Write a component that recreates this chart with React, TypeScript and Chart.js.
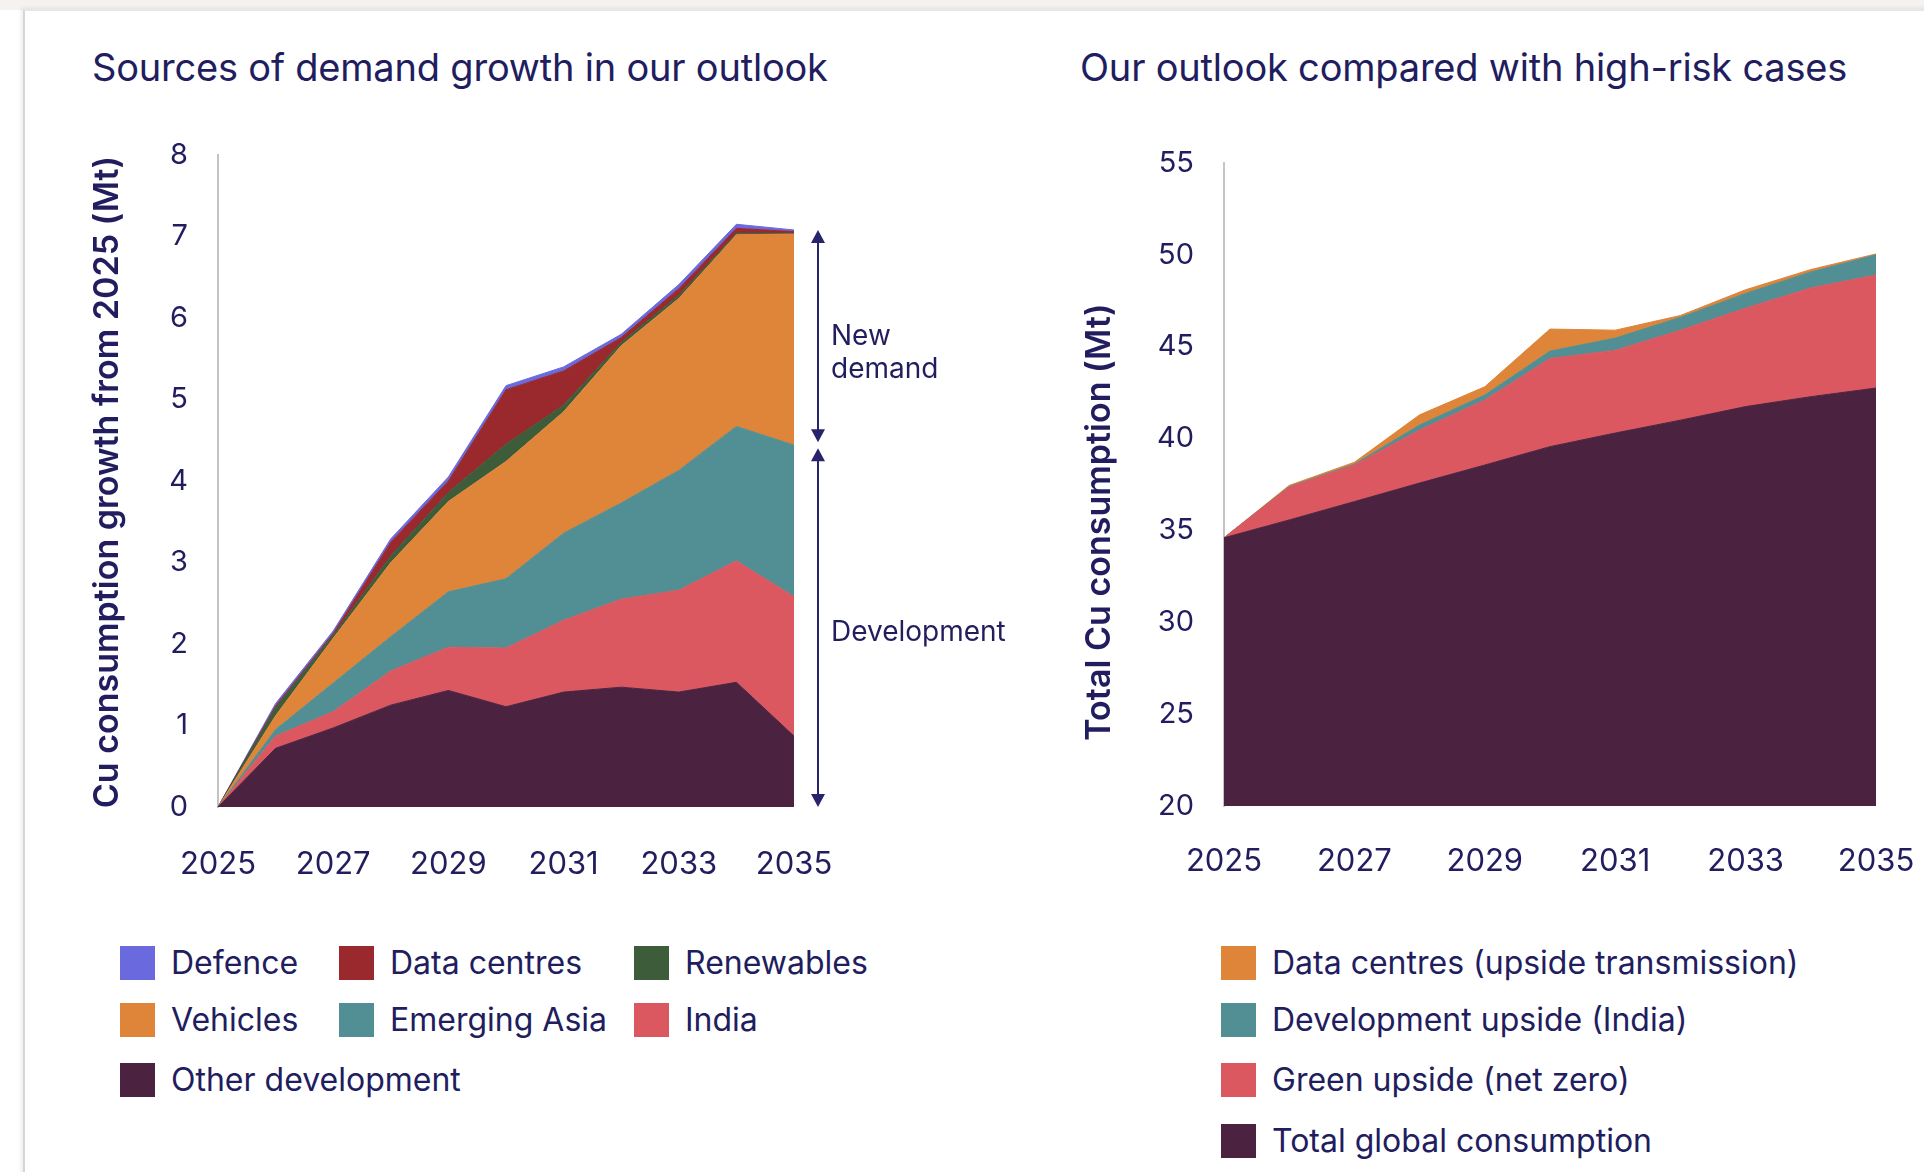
import React, { useEffect, useRef } from "react";
import { Chart, registerables } from "chart.js";

Chart.register(...registerables);

// ---------- DATA ----------
const years = ["2025", "2026", "2027", "2028", "2029", "2030", "2031", "2032", "2033", "2034", "2035"];
const xTickLabels = ["2025", "2027", "2029", "2031", "2033", "2035"];
const leftYTicks = [0, 1, 2, 3, 4, 5, 6, 7, 8];
const rightYTicks = [20, 25, 30, 35, 40, 45, 50, 55];

// Left chart: growth from 2025 (Mt), stacked bottom -> top
const otherDevelopment = [0, 0.72, 0.97, 1.25, 1.43, 1.23, 1.41, 1.47, 1.41, 1.53, 0.87];
const india = [0, 0.15, 0.2, 0.42, 0.53, 0.72, 0.88, 1.08, 1.25, 1.49, 1.71];
const emergingAsia = [0, 0.08, 0.35, 0.42, 0.68, 0.85, 1.07, 1.18, 1.47, 1.65, 1.86];
const vehicles = [0, 0.17, 0.55, 0.91, 1.11, 1.44, 1.49, 1.93, 2.11, 2.35, 2.59];
const renewables = [0, 0.1, 0.04, 0.08, 0.11, 0.21, 0.08, 0.04, 0.04, 0.02, 0.01];
const dataCentres = [0, 0.02, 0.02, 0.17, 0.14, 0.67, 0.42, 0.06, 0.08, 0.06, 0.02];
const defence = [0, 0.03, 0.03, 0.04, 0.05, 0.05, 0.05, 0.04, 0.05, 0.05, 0.02];

// Right chart: total Cu consumption (Mt), stacked bottom -> top
const totalGlobalConsumption = [34.6, 35.57, 36.57, 37.58, 38.56, 39.56, 40.3, 41.0, 41.74, 42.28, 42.75];
const greenUpside = [0, 1.79, 1.99, 2.89, 3.54, 4.8, 4.5, 4.9, 5.36, 5.92, 6.15];
const developmentUpside = [0, 0.03, 0.05, 0.27, 0.27, 0.4, 0.67, 0.7, 0.8, 0.87, 1.1];
const dataCentresUpside = [0, 0.06, 0.1, 0.55, 0.45, 1.2, 0.43, 0.1, 0.2, 0.13, 0.05];

const leftNames = ["Other development", "India", "Emerging Asia", "Vehicles", "Renewables", "Data centres", "Defence"];
const leftValues = [otherDevelopment, india, emergingAsia, vehicles, renewables, dataCentres, defence];
const leftColors = ["#4b2341", "#db5860", "#528f94", "#de853a", "#3d5d3a", "#9a292e", "#6a6ade"];

const rightNames = ["Total global consumption", "Green upside (net zero)", "Development upside (India)", "Data centres (upside transmission)"];
const rightValues = [totalGlobalConsumption, greenUpside, developmentUpside, dataCentresUpside];
const rightColors = ["#4b2341", "#db5860", "#528f94", "#de853a"];

const leftTitle = "Sources of demand growth in our outlook";
const rightTitle = "Our outlook compared with high-risk cases";
const leftYTitle = "Cu consumption growth from 2025 (Mt)";
const rightYTitle = "Total Cu consumption (Mt)";
const newDemandLabel = ["New", "demand"];
const developmentLabel = "Development";

// ---------- STYLE ----------
const FONT = "Inter, 'Noto Sans', sans-serif";
const NAVY = "#211d5e";
const AXIS_GRAY = "#c4c4c4";

function buildDatasets(names: string[], values: number[][], colors: string[], firstFill: string) {
  return names.map((n, i) => ({
    label: n,
    data: values[i],
    backgroundColor: colors[i],
    borderColor: colors[i],
    borderWidth: 1,
    fill: i === 0 ? firstFill : "-1",
    pointRadius: 0,
    pointHoverRadius: 0,
    tension: 0,
  }));
}

function drawYTitle(ctx: CanvasRenderingContext2D, text: string, x: number, y: number) {
  ctx.save();
  ctx.translate(x, y);
  ctx.rotate(-Math.PI / 2);
  ctx.font = `600 34px ${FONT}`;
  ctx.fillStyle = NAVY;
  ctx.textAlign = "center";
  ctx.textBaseline = "middle";
  ctx.fillText(text, 0, 0);
  ctx.restore();
}

function drawArrow(ctx: CanvasRenderingContext2D, x: number, y1: number, y2: number) {
  const hw = 7;
  const hh = 13;
  ctx.save();
  ctx.strokeStyle = "#28246b";
  ctx.fillStyle = "#28246b";
  ctx.lineWidth = 2;
  ctx.beginPath();
  ctx.moveTo(x, y1 + hh - 2);
  ctx.lineTo(x, y2 - hh + 2);
  ctx.stroke();
  ctx.beginPath();
  ctx.moveTo(x, y1);
  ctx.lineTo(x - hw, y1 + hh);
  ctx.lineTo(x + hw, y1 + hh);
  ctx.closePath();
  ctx.fill();
  ctx.beginPath();
  ctx.moveTo(x, y2);
  ctx.lineTo(x - hw, y2 - hh);
  ctx.lineTo(x + hw, y2 - hh);
  ctx.closePath();
  ctx.fill();
  ctx.restore();
}

function LeftChart() {
  const ref = useRef<HTMLCanvasElement | null>(null);
  useEffect(() => {
    if (!ref.current) return;
    const last = years.length - 1;
    const devTop = otherDevelopment[last] + india[last] + emergingAsia[last];
    const allTop = leftValues.reduce((s, arr) => s + arr[last], 0);
    const annot = {
      id: "leftAnnot",
      afterDraw(chart: any) {
        const ctx = chart.ctx as CanvasRenderingContext2D;
        const y = chart.scales.y;
        drawYTitle(ctx, leftYTitle, 108, 382);
        const ax = 818;
        const yTop = y.getPixelForValue(allTop);
        const yMid = y.getPixelForValue(devTop);
        const yBot = y.getPixelForValue(0);
        drawArrow(ctx, ax, yTop, yMid - 3);
        drawArrow(ctx, ax, yMid + 3, yBot);
        ctx.save();
        ctx.font = `400 28px ${FONT}`;
        ctx.fillStyle = NAVY;
        ctx.textAlign = "left";
        ctx.textBaseline = "middle";
        ctx.fillText(newDemandLabel[0], 831, 237);
        ctx.fillText(newDemandLabel[1], 831, 270);
        ctx.fillText(developmentLabel, 831, 533);
        ctx.restore();
      },
    };
    const chart = new Chart(ref.current, {
      type: "line",
      data: { labels: years, datasets: buildDatasets(leftNames, leftValues, leftColors, "origin") as any },
      options: {
        animation: false,
        responsive: true,
        maintainAspectRatio: false,
        layout: { padding: { top: 55, right: 236, left: 0, bottom: 0 } },
        plugins: { legend: { display: false }, tooltip: { enabled: false } },
        scales: {
          x: {
            grid: { display: false, drawTicks: false },
            border: { display: false },
            ticks: {
              autoSkip: false,
              maxRotation: 0,
              padding: 39,
              color: NAVY,
              font: { size: 31, family: FONT },
              callback: (_v: any, i: number) => (xTickLabels.includes(years[i]) ? years[i] : ""),
            },
            afterFit: (s: any) => {
              s.height = 113;
            },
          },
          y: {
            stacked: true,
            min: leftYTicks[0],
            max: leftYTicks[leftYTicks.length - 1],
            afterBuildTicks: (s: any) => {
              s.ticks = leftYTicks.map((v) => ({ value: v }));
            },
            ticks: { padding: 30, color: NAVY, font: { size: 29, family: FONT } },
            grid: { display: false, drawTicks: false },
            border: { display: true, color: AXIS_GRAY, width: 2 },
            afterFit: (s: any) => {
              s.width = 218;
            },
          },
        },
      } as any,
      plugins: [annot as any],
    });
    return () => chart.destroy();
  }, []);
  return (
    <div style={{ position: "absolute", left: 0, top: 100, width: 1030, height: 820, zIndex: 2, pointerEvents: "none" }}>
      <canvas ref={ref} />
    </div>
  );
}

function RightChart() {
  const ref = useRef<HTMLCanvasElement | null>(null);
  useEffect(() => {
    if (!ref.current) return;
    const annot = {
      id: "rightAnnot",
      afterDraw(chart: any) {
        drawYTitle(chart.ctx, rightYTitle, 140, 422);
      },
    };
    const chart = new Chart(ref.current, {
      type: "line",
      data: { labels: years, datasets: buildDatasets(rightNames, rightValues, rightColors, "start") as any },
      options: {
        animation: false,
        responsive: true,
        maintainAspectRatio: false,
        layout: { padding: { top: 63, right: 76, left: 0, bottom: 0 } },
        plugins: { legend: { display: false }, tooltip: { enabled: false } },
        scales: {
          x: {
            grid: { display: false, drawTicks: false },
            border: { display: false },
            ticks: {
              autoSkip: false,
              maxRotation: 0,
              padding: 37,
              color: NAVY,
              font: { size: 31, family: FONT },
              callback: (_v: any, i: number) => (xTickLabels.includes(years[i]) ? years[i] : ""),
            },
            afterFit: (s: any) => {
              s.height = 114;
            },
          },
          y: {
            stacked: true,
            min: rightYTicks[0],
            max: rightYTicks[rightYTicks.length - 1],
            afterBuildTicks: (s: any) => {
              s.ticks = rightYTicks.map((v) => ({ value: v }));
            },
            ticks: { padding: 30, color: NAVY, font: { size: 29, family: FONT } },
            grid: { display: false, drawTicks: false },
            border: { display: true, color: AXIS_GRAY, width: 2 },
            afterFit: (s: any) => {
              s.width = 264;
            },
          },
        },
      } as any,
      plugins: [annot as any],
    });
    return () => chart.destroy();
  }, []);
  return (
    <div style={{ position: "absolute", left: 960, top: 100, width: 992, height: 820, zIndex: 1 }}>
      <canvas ref={ref} />
    </div>
  );
}

function LegendItem({ x, y, color, label }: { x: number; y: number; color: string; label: string }) {
  return (
    <div style={{ position: "absolute", left: x, top: y - 17, height: 34, display: "flex", alignItems: "center", whiteSpace: "nowrap" }}>
      <div style={{ width: 35, height: 34, background: color, marginRight: 16 }} />
      <span style={{ fontFamily: FONT, fontSize: 32, color: NAVY, lineHeight: "34px" }}>{label}</span>
    </div>
  );
}

export default function App() {
  const leftLegendNames = [...leftNames].reverse();
  const leftLegendColors = [...leftColors].reverse();
  const leftCols = [120, 339, 634];
  const leftRows = [963, 1020, 1080];
  const rightLegendNames = [...rightNames].reverse();
  const rightLegendColors = [...rightColors].reverse();
  const rightRows = [963, 1020, 1080, 1141];
  const titleStyle: React.CSSProperties = {
    position: "absolute",
    top: 44,
    fontFamily: FONT,
    fontSize: 38,
    color: NAVY,
    whiteSpace: "nowrap",
    lineHeight: "46px",
    letterSpacing: -0.2,
  };
  return (
    <div style={{ position: "absolute", left: 0, top: 0, width: 1924, height: 1172, background: "#ffffff", overflow: "hidden" }}>
      <div style={{ position: "absolute", left: 0, top: 0, width: 1924, height: 10, background: "#f5f2ef" }} />
      <div
        style={{
          position: "absolute",
          left: 23,
          top: 9,
          width: 1910,
          height: 1180,
          background: "#ffffff",
          borderLeft: "2px solid #d6d6d6",
          borderTop: "2px solid #e6e6e6",
          boxShadow: "-2px -1px 4px rgba(0,0,0,0.08)",
        }}
      />
      <div style={{ ...titleStyle, left: 92 }}>{leftTitle}</div>
      <div style={{ ...titleStyle, left: 1080 }}>{rightTitle}</div>
      <RightChart />
      <LeftChart />
      {leftLegendNames.map((n, i) => (
        <LegendItem key={n} x={leftCols[i % 3]} y={leftRows[Math.floor(i / 3)]} color={leftLegendColors[i]} label={n} />
      ))}
      {rightLegendNames.map((n, i) => (
        <LegendItem key={n} x={1221} y={rightRows[i]} color={rightLegendColors[i]} label={n} />
      ))}
    </div>
  );
}
